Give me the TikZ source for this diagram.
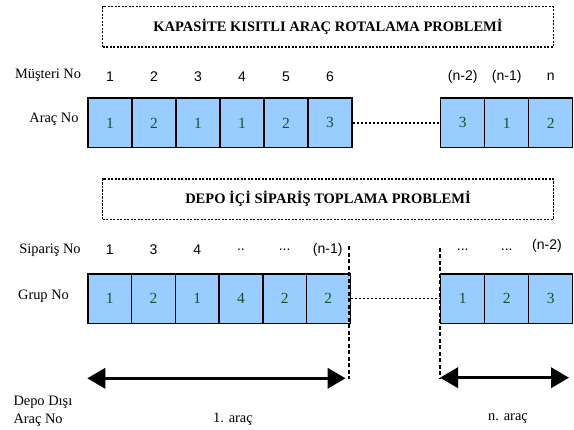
\documentclass[tikz,border=0pt]{standalone}
\usepackage{fontspec}
\setmainfont{Liberation Serif}
\newfontfamily\arialf{Liberation Sans}
\usetikzlibrary{arrows.meta}
\definecolor{cellfill}{HTML}{99CCFF}
\definecolor{celltext}{HTML}{1F4F2F}
\tikzset{
  cellA/.style={draw=black, line width=1.4pt, fill=cellfill, minimum width=44pt, minimum height=49.4pt, inner sep=0pt, text=celltext, font=\fontsize{15.5}{17}\selectfont, anchor=north west},
  cellB/.style={cellA, minimum width=43.7pt},
  titlebox/.style={draw=black, line width=1.4pt, dash pattern=on 2.2pt off 1.3pt, minimum width=450.7pt, minimum height=40.3pt, inner sep=0pt, font=\fontsize{14.5}{17}\bfseries},
  lbl/.style={inner sep=0pt, font=\fontsize{14.4}{17}\selectfont},
  num/.style={inner sep=0pt, font=\arialf\fontsize{14}{16}\selectfont},
  dotline/.style={line width=1.5pt, dash pattern=on 2.5pt off 1.5pt},
  vdash/.style={line width=2.3pt, dash pattern=on 4pt off 2.5pt},
  dblarrow/.style={line width=3.5pt, {Triangle[length=18pt,width=20pt]}-{Triangle[length=18pt,width=20pt]}}
}
\begin{document}
\begin{tikzpicture}[x=1pt,y=-1pt]
\useasboundingbox (0,0) rectangle (574,430);
% titles
\node[titlebox] (t1) at (328,26.9) {KAPASİTE KISITLI ARAÇ ROTALAMA PROBLEMİ};
\node[titlebox] (t2) at (328,199.2) {DEPO İÇİ SİPARİŞ TOPLAMA PROBLEMİ};
% row 1
\node[lbl] (lm) at (48,75.5) {Müşteri No};
\node[lbl] (la) at (54,119) {Araç No};
\foreach \v [count=\i] in {1,2,1,1,2,3} {
  \node[cellA] (ra\i) at ({87.3+(\i-1)*44},97.5) {\v};
}
\foreach \v [count=\i] in {3,1,2} {
  \node[cellA] (rb\i) at ({440+(\i-1)*44},97.5) {\v};
}
\foreach \t [count=\i] in {1,2,3,4,5,6} {
  \node[num] (na\i) at (ra\i |- 0,77) {\t};
}
\foreach \t [count=\i] in {(n-2),(n-1),n} {
  \node[num] (nb\i) at (rb\i |- 0,77) {\t};
}
\draw[dotline] (ra6.east) -- (rb1.west);
% row 2
\node[lbl] (ls) at (50,250) {Sipariş No};
\node[lbl] (lg) at (43.5,296) {Grup No};
\foreach \v [count=\i] in {1,2,1,4,2,2} {
  \node[cellB] (sa\i) at ({87.3+(\i-1)*43.7},273.3) {\v};
}
\foreach \v [count=\i] in {1,2,3} {
  \node[cellA] (sb\i) at ({440+(\i-1)*44},273.3) {\v};
}
\node[num] (ma1) at (sa1 |- 0,250) {1};
\node[num] (ma2) at (sa2 |- 0,250) {3};
\node[num] (ma3) at (sa3 |- 0,250) {4};
\node[num] (ma4) at (sa4 |- 0,250) {..};
\node[num] (ma5) at (sa5 |- 0,250) {...};
\node[num] (ma6) at (327.7,250) {(n-1)};
\node[num] (mb1) at (sb1 |- 0,250) {...};
\node[num] (mb2) at (sb2 |- 0,250) {...};
\node[num] (mb3) at (547,246) {(n-2)};
\draw[dotline] (sa6.east) -- (sb1.west);
% dashed separators
\coordinate (v1t) at (349.3,246.5);
\coordinate (v1b) at (349.3,379.3);
\coordinate (v2t) at (440,248);
\coordinate (v2b) at (440,378.3);
\draw[vdash] (v1t) -- (v1b);
\draw[vdash] (v2t) -- (v2b);
% arrows
\coordinate (a1) at (87.3,378.3);
\coordinate (a2) at (345.6,378.3);
\coordinate (b1) at (440,377.7);
\coordinate (b2) at (569,377.7);
\draw[dblarrow] (a1) -- (a2);
\draw[dblarrow] (b1) -- (b2);
% bottom labels
\node[lbl, anchor=west] (ld1) at (13.3,402) {Depo Dışı};
\node[lbl, anchor=west] (ld2) at (13.3,420) {Araç No};
\node[lbl] (l1a) at (233,419) {1. araç};
\node[lbl] (lna) at (508,419) {n. araç};
\end{tikzpicture}
\end{document}
